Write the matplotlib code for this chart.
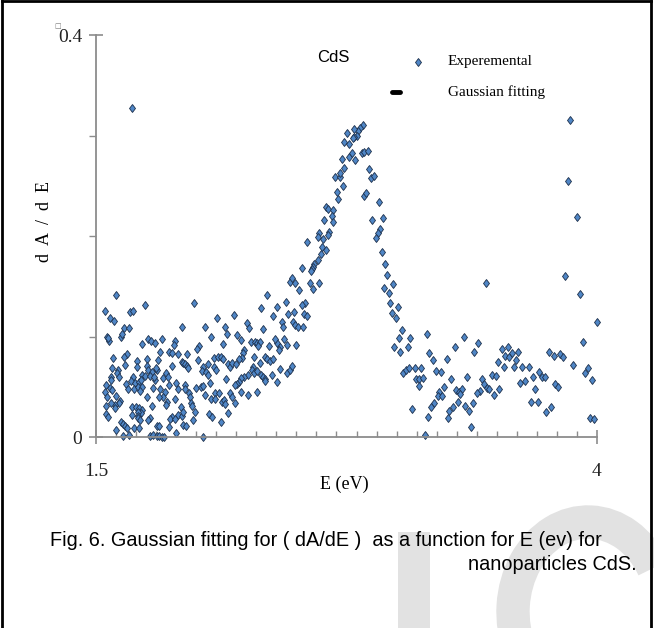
import numpy as np
import matplotlib
matplotlib.use('Agg')
import matplotlib.pyplot as plt
from matplotlib.lines import Line2D
from matplotlib.patches import Rectangle, Arc

E_low = [1.68, 1.60, 1.745, 1.545, 1.57, 1.59, 1.67, 1.685, 1.64, 1.665, 1.93, 1.555, 1.565, 1.56,
         1.625, 1.63, 1.76, 1.775, 1.795, 1.83, 1.73, 1.895, 1.89, 1.82, 1.865, 1.88, 1.91, 1.655,
         1.64, 1.585, 1.755, 1.81, 1.705, 1.93, 1.58, 1.645, 1.705, 1.61, 1.605, 1.615, 1.755, 1.76,
         1.78, 1.805, 1.80, 1.88, 1.85, 1.835, 1.86, 1.575, 1.575, 1.73, 1.745, 1.77, 1.795, 1.79,
         1.685, 1.675, 1.695, 1.715, 1.725, 1.65, 1.66, 1.69, 1.71, 1.73, 1.72, 1.55, 1.57, 1.58,
         1.785, 1.82, 1.865, 1.90, 1.945, 1.91, 1.755, 1.845, 1.835, 1.815, 1.855, 1.85, 1.895, 1.545,
         1.555, 1.60, 1.62, 1.615, 1.595, 1.575, 1.55, 1.595, 1.55, 1.56, 1.68, 1.70, 1.715, 1.73,
         1.725, 1.71, 1.68, 1.71, 1.71, 1.72, 1.78, 1.88, 1.91, 1.93, 1.87, 1.895, 1.77, 1.76,
         1.625, 1.635, 1.645, 1.655, 1.60, 1.69, 1.715, 1.805, 1.815, 1.865, 1.90, 1.635, 1.665, 1.77,
         1.785, 1.805, 1.815, 1.83, 1.84]
A_low = [0.327, 0.141, 0.131, 0.125, 0.118, 0.115, 0.124, 0.125, 0.108, 0.108, 0.109, 0.100, 0.0955, 0.0985,
         0.0995, 0.1025, 0.0975, 0.0955, 0.0935, 0.0975, 0.0925, 0.0955, 0.0915, 0.0845, 0.0845, 0.0835, 0.0825, 0.0825,
         0.0795, 0.0785, 0.0775, 0.0765, 0.0755, 0.0745, 0.0685, 0.0715, 0.0695, 0.0665, 0.0635, 0.0595, 0.0705, 0.0665,
         0.0645, 0.0665, 0.0685, 0.0705, 0.0635, 0.0585, 0.0595, 0.0595, 0.0565, 0.0615, 0.0605, 0.0605, 0.0565, 0.0595,
         0.0595, 0.0555, 0.0535, 0.0545, 0.0565, 0.0525, 0.0475, 0.0475, 0.0495, 0.0495, 0.0455, 0.0515, 0.0485, 0.0465,
         0.0485, 0.0475, 0.0515, 0.0535, 0.0515, 0.0475, 0.040, 0.045, 0.040, 0.040, 0.035, 0.032, 0.038, 0.045,
         0.040, 0.041, 0.036, 0.034, 0.032, 0.034, 0.031, 0.029, 0.023, 0.020, 0.030, 0.030, 0.029, 0.027,
         0.024, 0.025, 0.022, 0.021, 0.019, 0.017, 0.031, 0.020, 0.022, 0.021, 0.018, 0.018, 0.019, 0.017,
         0.015, 0.013, 0.011, 0.009, 0.007, 0.009, 0.009, 0.011, 0.011, 0.010, 0.004, 0.001, 0.002, 0.001,
         0.002, 0.001, 0.001, 0.0, 0.0]

E_mid = [2.355, 2.325, 1.99, 2.19, 2.105, 2.045, 2.075, 2.145, 2.155, 2.255, 2.265, 2.335, 2.205, 2.225,
         2.275, 2.295, 2.305, 2.32, 2.31, 2.365, 2.135, 2.015, 2.005, 1.955, 2.24, 2.235, 2.23, 2.215,
         2.29, 2.09, 2.11, 2.125, 2.135, 2.01, 2.345, 2.355, 2.32, 1.935, 1.945, 1.955, 1.96, 2.16,
         2.17, 2.18, 2.20, 2.06, 2.035, 2.03, 2.05, 2.06, 2.09, 2.10, 2.285, 2.28, 2.29, 2.305,
         2.26, 2.24, 2.225, 2.215, 2.205, 2.195, 2.325, 2.335, 2.345, 2.15, 2.07, 2.225, 2.26, 2.305,
         1.945, 1.965, 1.97, 2.00, 2.025, 2.035, 2.045, 2.075, 2.095, 2.095, 2.115, 2.13, 2.14, 2.145,
         2.17, 2.18, 2.195, 1.925, 1.935, 1.975, 1.98, 1.995, 1.985, 2.065, 2.08, 2.125, 2.16, 1.935,
         1.95, 2.035]
A_mid = [0.141, 0.128, 0.133, 0.121, 0.118, 0.109, 0.0995, 0.109, 0.1025, 0.113, 0.108, 0.107, 0.1015, 0.0965,
         0.0945, 0.0945, 0.0935, 0.0945, 0.0905, 0.0905, 0.0925, 0.0905, 0.0875, 0.0825, 0.0865, 0.0835, 0.0785, 0.0775,
         0.0795, 0.0785, 0.0795, 0.0795, 0.0775, 0.0765, 0.0795, 0.0775, 0.0735, 0.0735, 0.0725, 0.0705, 0.0685, 0.0725,
         0.0695, 0.0735, 0.0725, 0.0725, 0.0695, 0.0655, 0.0645, 0.0615, 0.0695, 0.0665, 0.0695, 0.0665, 0.0635, 0.0655,
         0.0615, 0.0595, 0.0585, 0.0545, 0.0525, 0.0515, 0.0615, 0.0595, 0.0575, 0.0575, 0.0535, 0.045, 0.042, 0.045,
         0.048, 0.044, 0.040, 0.049, 0.050, 0.051, 0.042, 0.038, 0.044, 0.038, 0.044, 0.035, 0.037, 0.033,
         0.044, 0.040, 0.034, 0.030, 0.025, 0.034, 0.031, 0.025, 0.017, 0.023, 0.020, 0.015, 0.024, 0.012,
         0.011, 0.0]

E_rise = [2.74, 2.73, 2.74, 2.695, 2.72, 2.735, 2.705, 2.71, 2.65, 2.66, 2.685, 2.68, 2.685, 2.64,
          2.615, 2.61, 2.665, 2.66, 2.635, 2.63, 2.65, 2.625, 2.61, 2.59, 2.585, 2.58, 2.575, 2.555,
          2.53, 2.47, 2.48, 2.495, 2.515, 2.57, 2.585, 2.615, 2.545, 2.53, 2.45, 2.405, 2.49, 2.46,
          2.54, 2.555, 2.385, 2.43, 2.435, 2.485, 2.495, 2.51, 2.535, 2.405, 2.44, 2.42, 2.415, 2.455,
          2.50, 2.395, 2.37, 2.385, 2.42, 2.455, 2.47, 2.48, 2.38, 2.405, 2.345]
A_rise = [0.2935, 0.2765, 0.2675, 0.2585, 0.2585, 0.2495, 0.244, 0.237, 0.229, 0.227, 0.226, 0.220, 0.214, 0.216,
          0.203, 0.199, 0.204, 0.201, 0.197, 0.189, 0.186, 0.182, 0.176, 0.172, 0.169, 0.167, 0.165, 0.194,
          0.168, 0.154, 0.158, 0.153, 0.146, 0.153, 0.147, 0.153, 0.133, 0.131, 0.134, 0.129, 0.124, 0.122,
          0.122, 0.120, 0.120, 0.114, 0.109, 0.114, 0.111, 0.109, 0.109, 0.0935, 0.0975, 0.0895, 0.0865, 0.0915,
          0.0915, 0.0975, 0.0755, 0.0775, 0.0675, 0.0635, 0.0665, 0.0705, 0.0615, 0.0545, 0.0555]

E_fall = [2.83, 2.815, 2.805, 2.80, 2.785, 2.785, 2.75, 2.76, 2.78, 2.76, 2.775, 2.79, 2.825, 2.835,
          2.855, 2.72, 2.86, 2.87, 2.885, 2.835, 2.845, 2.91, 2.875, 2.93, 2.915, 2.905, 2.895, 2.925,
          2.94, 2.95, 2.935, 2.96, 2.98, 2.965, 2.975, 2.995, 3.005, 3.025, 3.01, 2.985, 3.015, 3.055,
          3.065, 3.03, 3.045, 3.06, 3.09, 3.12, 3.095, 3.11, 3.13, 3.11, 3.075]
A_fall = [0.3105, 0.3075, 0.3045, 0.2995, 0.3065, 0.2985, 0.3025, 0.2915, 0.2975, 0.2785, 0.2825, 0.2755, 0.2825, 0.2835,
          0.2845, 0.2625, 0.2665, 0.2575, 0.2595, 0.2395, 0.2425, 0.234, 0.216, 0.218, 0.207, 0.203, 0.198, 0.184,
          0.172, 0.161, 0.148, 0.143, 0.152, 0.133, 0.123, 0.118, 0.129, 0.106, 0.0985, 0.0895, 0.0845, 0.0895,
          0.0985, 0.0635, 0.0665, 0.0685, 0.0685, 0.0685, 0.0575, 0.0575, 0.0585, 0.0505, 0.028]

E_high = [3.15, 3.335, 3.29, 3.405, 3.385, 3.16, 3.18, 3.25, 3.195, 3.22, 3.525, 3.555, 3.54, 3.56,
          3.505, 3.535, 3.475, 3.495, 3.35, 3.27, 3.425, 3.435, 3.45, 3.46, 3.51, 3.485, 3.235, 3.295,
          3.31, 3.325, 3.315, 3.21, 3.205, 3.225, 3.415, 3.40, 3.305, 3.28, 3.26, 3.255, 3.185, 3.17,
          3.155, 3.34, 3.36, 3.38, 3.37, 3.14, 3.445,
          3.865, 3.855, 3.90, 3.84, 3.915, 4.0, 3.93, 3.575, 3.605, 3.595, 3.585, 3.625, 3.66, 3.76,
          3.785, 3.815, 3.83, 3.88, 3.955, 3.94, 3.975, 3.615, 3.64, 3.68, 3.71, 3.725, 3.74, 3.69,
          3.79, 3.805, 3.67, 3.705, 3.745, 3.77, 3.965, 3.985]
A_high = [0.1025, 0.0995, 0.0895, 0.0935, 0.0845, 0.0835, 0.0765, 0.0775, 0.0655, 0.0645, 0.0875, 0.0895, 0.0805, 0.0795,
          0.0745, 0.0695, 0.0615, 0.0605, 0.0595, 0.0575, 0.0575, 0.0525, 0.0485, 0.0475, 0.0475, 0.042, 0.0495, 0.0465,
          0.045, 0.0475, 0.043, 0.045, 0.041, 0.041, 0.046, 0.044, 0.035, 0.030, 0.026, 0.019, 0.034, 0.030,
          0.020, 0.031, 0.026, 0.034, 0.010, 0.002, 0.153,
          0.3155, 0.2545, 0.219, 0.160, 0.142, 0.1145, 0.0945, 0.0835, 0.0845, 0.0765, 0.0695, 0.0695, 0.0695, 0.0845,
          0.0805, 0.0825, 0.0795, 0.0715, 0.0685, 0.0635, 0.0565, 0.0535, 0.0555, 0.0595, 0.0645, 0.0595, 0.0595, 0.0475,
          0.0525, 0.0495, 0.035, 0.035, 0.025, 0.030, 0.019, 0.018]

energy = np.array(E_low + E_mid + E_rise + E_fall + E_high)
dAdE = np.array(A_low + A_mid + A_rise + A_fall + A_high)

W, H = 654, 628
fig = plt.figure(figsize=(W / 100, H / 100), dpi=100)
ax = fig.add_axes([96 / W, 1 - 437 / H, (597 - 96) / W, (437 - 35) / H])

mk = dict(marker='d', markersize=4.4, markerfacecolor='#4f86c6',
          markeredgecolor='#1c2f4a', markeredgewidth=0.6)
ax.plot(energy, dAdE, linestyle='none', clip_on=False, **mk)

ax.set_xlim(1.5, 4)
ax.set_ylim(0, 0.4)
for s in ['top', 'right']:
    ax.spines[s].set_visible(False)
for s in ['left', 'bottom']:
    ax.spines[s].set_color('#8c8c8c')
    ax.spines[s].set_linewidth(1.3)

serif = 'Liberation Serif'
ax.set_xticks([1.5, 4])
ax.set_xticklabels(['1.5', '4'])
ax.set_xticks(np.arange(1.6, 4.0, 0.1), minor=True)
ax.set_yticks([0, 0.4])
ax.set_yticklabels(['0', '0.4'])
ax.set_yticks([0.1, 0.2, 0.3], minor=True)
ax.tick_params(axis='x', which='major', direction='inout', length=10, width=1.2, color='#8c8c8c', pad=14)
ax.tick_params(axis='x', which='minor', direction='in', length=4, width=1.0, color='#8c8c8c')
ax.tick_params(axis='y', which='major', direction='inout', length=10, width=1.2, color='#8c8c8c', pad=5)
ax.tick_params(axis='y', which='minor', direction='out', length=5, width=1.0, color='#8c8c8c')
for lab in ax.get_xticklabels() + ax.get_yticklabels():
    lab.set_fontfamily(serif)
    lab.set_fontsize(14)
    lab.set_color('#222222')

ax.set_xlabel('E (eV)', fontfamily=serif, fontsize=13)
ax.xaxis.set_label_coords((344 - 96) / (597 - 96), -0.095)
ax.set_ylabel('d  A  /  d  E', fontfamily=serif, fontsize=13)
ax.yaxis.set_label_coords(-0.085, 0.535)

# little box glyph next to the top label
fig.text(58 / W, 1 - 26 / H, '\u25a1', fontsize=5, color='#777777', ha='center', va='center')

# legend-like labels
fig.text(333 / W, 1 - 58 / H, 'CdS', fontsize=12, ha='center', va='center',
         family=['Liberation Sans', 'DejaVu Sans'])
fig.add_artist(Line2D([418 / W], [1 - 62 / H], linestyle='none',
                      transform=fig.transFigure, **mk))
fig.text(448 / W, 1 - 61 / H, 'Experemental', fontfamily=serif, fontsize=11, va='center')
fig.add_artist(Line2D([392 / W, 400 / W], [1 - 92 / H, 1 - 92 / H], color='black', lw=3.5,
                      solid_capstyle='round', transform=fig.transFigure))
fig.text(448 / W, 1 - 92 / H, 'Gaussian fitting', fontfamily=serif, fontsize=11, va='center')

# caption
fig.text(50 / W, 1 - 541 / H, 'Fig. 6. Gaussian fitting for ( dA/dE )  as a function for E (ev) for',
         fontfamily='Liberation Sans', fontsize=14.3, va='center', zorder=5)
fig.text(637 / W, 1 - 564 / H, 'nanoparticles CdS.', fontfamily='Liberation Sans', fontsize=14.3,
         va='center', ha='right', zorder=5)

# faint watermark shapes
fig.add_artist(Rectangle((398 / W, 0), 32 / W, (628 - 532) / H, transform=fig.transFigure,
                         facecolor='#e2e2e2', edgecolor='none', zorder=0))
fig.add_artist(Arc((588 / W, 1 - 612 / H), 150 / W, 180 / H, theta1=35, theta2=265,
                   transform=fig.transFigure, color='#e2e2e2', lw=24, zorder=0))

# page border
border = dict(color='black', lw=2, transform=fig.transFigure)
fig.add_artist(Line2D([2 / W, 2 / W], [0, 1 - 1 / H], **border))
fig.add_artist(Line2D([2 / W, 651 / W], [1 - 1 / H, 1 - 1 / H], **border))
fig.add_artist(Line2D([651 / W, 651 / W], [0, 1 - 1 / H], **border))

fig.savefig('out.png', dpi=100)
